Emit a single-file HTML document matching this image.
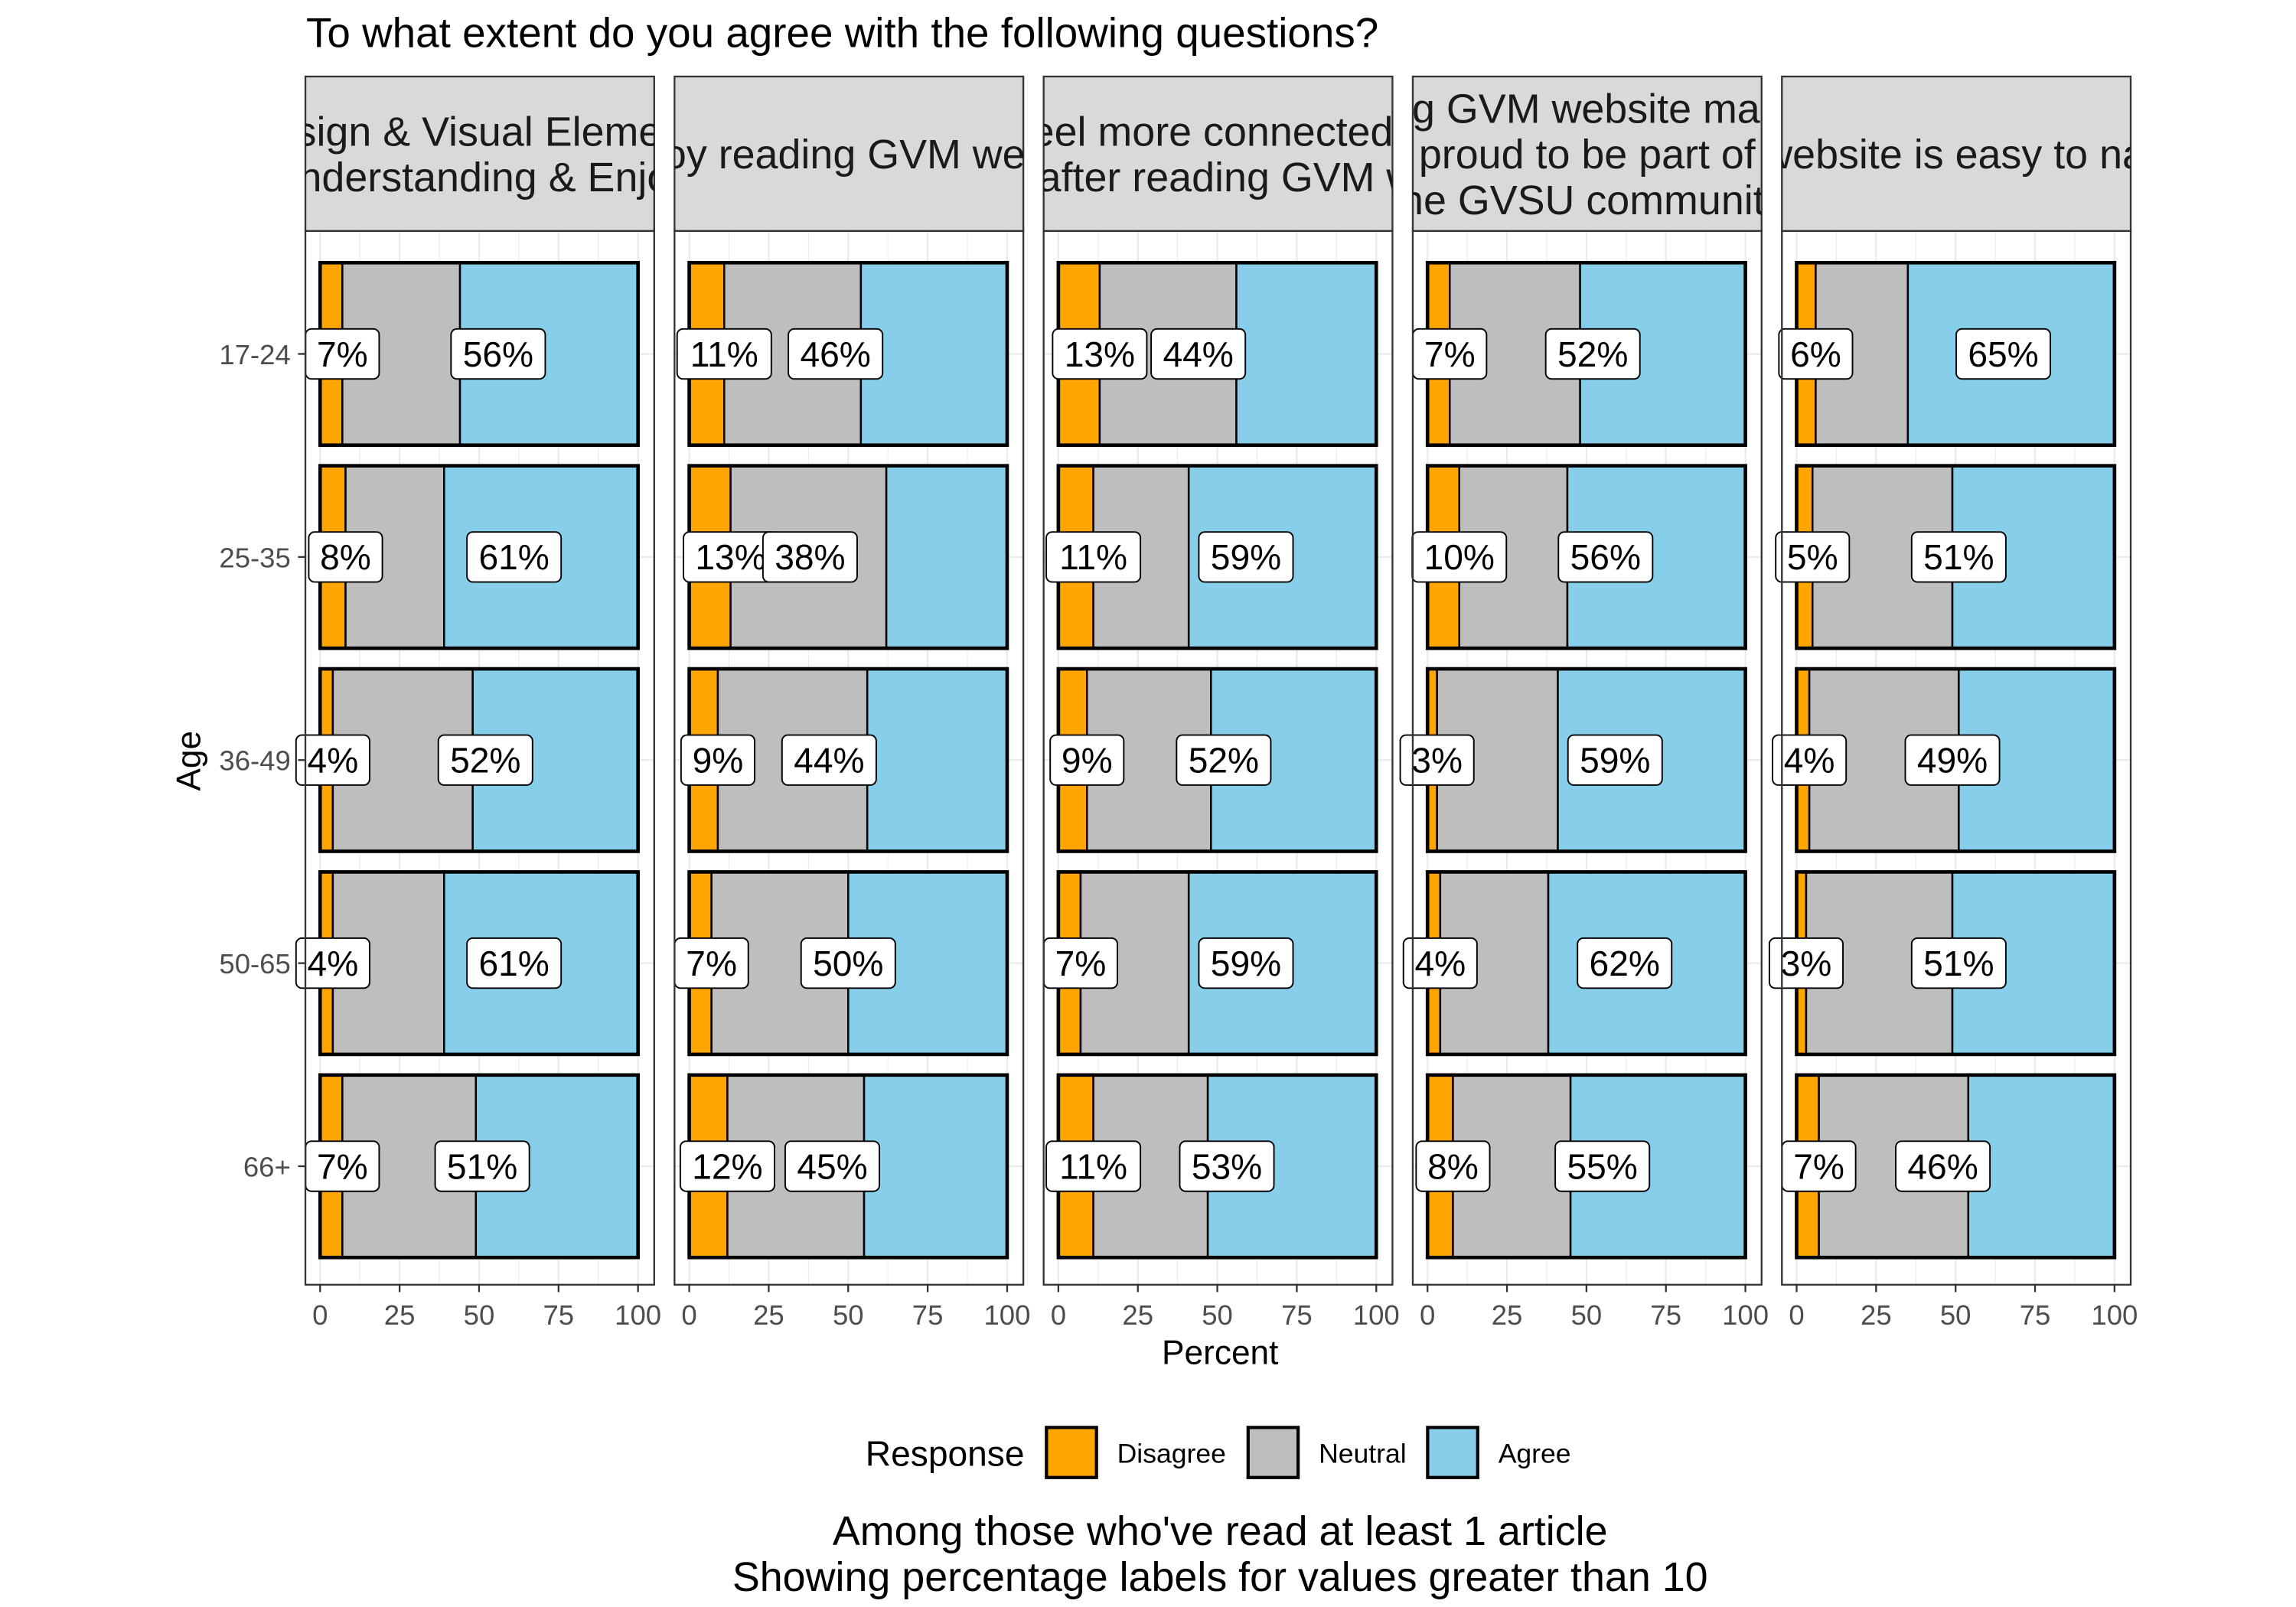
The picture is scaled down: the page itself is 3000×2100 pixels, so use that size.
<!DOCTYPE html>
<html><head><meta charset="utf-8"><style>
html,body{margin:0;padding:0;background:#fff}
svg{display:block;font-family:"Liberation Sans",Arial,sans-serif}
</style></head><body>
<svg id="chart" width="3000" height="2100" viewBox="0 0 1560 1092" xmlns="http://www.w3.org/2000/svg">
<rect x="0" y="0" width="1560" height="1092" fill="#fff"/>
<text x="208" y="32" font-size="28.5" fill="#000">To what extent do you agree with the following questions?</text>
<g id="panels"></g>
<g id="yaxis"></g>
<text transform="translate(136,517) rotate(-90)" text-anchor="middle" font-size="23" fill="#000">Age</text>
<text x="829" y="927" text-anchor="middle" font-size="23" fill="#000">Percent</text>
<g>
<text x="588" y="996" font-size="24" fill="#000">Response</text>
<g><rect x="711" y="970" width="34" height="34" fill="#FFA500" stroke="#000" stroke-width="2.2"/><text x="759" y="994" font-size="18.5" fill="#000">Disagree</text></g>
<g><rect x="848" y="970" width="34" height="34" fill="#BEBEBE" stroke="#000" stroke-width="2.2"/><text x="896" y="994" font-size="18.5" fill="#000">Neutral</text></g>
<g><rect x="970" y="970" width="34" height="34" fill="#87CEEB" stroke="#000" stroke-width="2.2"/><text x="1018" y="994" font-size="18.5" fill="#000">Agree</text></g>
</g>
<text x="829" y="1050" text-anchor="middle" font-size="28" fill="#000">Among those who've read at least 1 article</text>
<text x="829" y="1081" text-anchor="middle" font-size="28" fill="#000">Showing percentage labels for values greater than 10</text>
</svg>
<script>
const ages = ["17-24","25-35","36-49","50-65","66+"];
const xTicks = [0,25,50,75,100];
const stripLines = [
  ["Design & Visual Elements","Understanding & Enjoy"],
  ["I enjoy reading GVM website"],
  ["I feel more connected to","GVSU after reading GVM website"],
  ["Reading GVM website makes me","me proud to be part of the","the GVSU community"],
  ["GVM website is easy to navigate"]
];
const disagree = [
  [7,8,4,4,7],
  [11,13,9,7,12],
  [13,11,9,7,11],
  [7,10,3,4,8],
  [6,5,4,3,7]
];
const neutral = [
  [37,31,44,35,42],
  [43,49,47,43,43],
  [43,30,39,34,36],
  [41,34,38,34,37],
  [29,44,47,46,47]
];
const agree = [
  [56,61,52,61,51],
  [46,38,44,50,45],
  [44,59,52,59,53],
  [52,56,59,62,55],
  [65,51,49,51,46]
];

const NS = "http://www.w3.org/2000/svg";
const svg = document.getElementById('chart');
const panelsG = document.getElementById('panels');
const P_LEFT0 = 207.5, P_W = 237, P_GAP = 13.8;
const STRIP_T = 52, STRIP_B = 157, PANEL_B = 873;
const rowY0 = 240.5, rowStep = 138, barH = 124;
function mk(tag, attrs, parent){ const e=document.createElementNS(NS,tag); for(const k in attrs) e.setAttribute(k,attrs[k]); parent.appendChild(e); return e; }
function panelLeft(p){ return P_LEFT0 + p*(P_W+P_GAP); }
function xScale(p,v){ return panelLeft(p) + 10 + v*2.16; }
function yScale(r){ return rowY0 + r*rowStep; }
const defs = mk('defs',{},svg);
const colors = {d:"#FFA500", n:"#BEBEBE", a:"#87CEEB"};

for(let p=0;p<5;p++){
  const L = panelLeft(p);
  const g = mk('g',{},panelsG);
  
  
  const cp = mk('clipPath',{id:'clip'+p},defs);
  mk('rect',{x:L,y:STRIP_T,width:P_W,height:STRIP_B-STRIP_T},cp);
  const strip = mk('rect',{x:L,y:STRIP_T,width:P_W,height:STRIP_B-STRIP_T,fill:"#d9d9d9",stroke:"#333",'stroke-width':1.2},g);
  
  
  const lines = stripLines[p];
  const n = lines.length, lh = 31, cy = (STRIP_T+STRIP_B)/2;
  lines.forEach((t,i)=>{
    const tx = mk('text',{x:L+P_W/2,y:cy+(i-(n-1)/2)*lh+10,'text-anchor':'middle','font-size':28,fill:'#1a1a1a','clip-path':'url(#clip'+p+')'},g);
    tx.textContent = t;
    
    
  });
  mk('rect',{x:L,y:STRIP_B,width:P_W,height:PANEL_B-STRIP_B,fill:"#fff"},g);
  for(let v=12.5; v<100; v+=25){
    mk('line',{x1:xScale(p,v),x2:xScale(p,v),y1:STRIP_B,y2:PANEL_B,stroke:"#ebebeb",'stroke-width':0.6},g);
  }
  xTicks.forEach(v=>{
    mk('line',{x1:xScale(p,v),x2:xScale(p,v),y1:STRIP_B,y2:PANEL_B,stroke:"#ebebeb",'stroke-width':1.2},g);
  });
  ages.forEach((a,r)=>{
    mk('line',{x1:L,x2:L+P_W,y1:yScale(r),y2:yScale(r),stroke:"#ebebeb",'stroke-width':1.2},g);
  });
  ages.forEach((a,r)=>{
    const y = yScale(r)-barH/2;
    const d = disagree[p][r], nu = neutral[p][r], ag = agree[p][r];
    const segs = [[0,d,colors.d,'disagree'],[d,d+nu,colors.n,'neutral'],[d+nu,d+nu+ag,colors.a,'agree']];
    segs.forEach(s=>{
      const b = mk('rect',{x:xScale(p,s[0]),y:y,width:xScale(p,s[1])-xScale(p,s[0]),height:barH,fill:s[2],stroke:"#000",'stroke-width':1.3},g);
      
      
    });
    mk('rect',{x:xScale(p,0),y:y,width:xScale(p,100)-xScale(p,0),height:barH,fill:"none",stroke:"#000",'stroke-width':2.4},g);
  });
  ages.forEach((a,r)=>{
    [[disagree[p][r],'disagree'],[agree[p][r],'agree']].forEach(lv=>{
      const v = lv[0], txt = v+'%';
      const w = txt.length===2 ? 50 : 64;
      const cx = xScale(p,v), cyy = yScale(r);
      const lg = mk('g',{},g);
      
      
      mk('rect',{x:cx-w/2,y:cyy-17,width:w,height:34,rx:4,fill:'#fff',stroke:'#000','stroke-width':1},lg);
      const t = mk('text',{x:cx,y:cyy+8.5,'text-anchor':'middle','font-size':24,fill:'#000'},lg);
      t.textContent = txt;
    });
  });
  mk('rect',{x:L,y:STRIP_B,width:P_W,height:PANEL_B-STRIP_B,fill:"none",stroke:"#333",'stroke-width':1.2},g);
  xTicks.forEach(v=>{
    const x = xScale(p,v);
    mk('line',{x1:x,x2:x,y1:PANEL_B,y2:PANEL_B+5,stroke:"#333",'stroke-width':1.2},g);
    const t = mk('text',{x:x,y:PANEL_B+27,'text-anchor':'middle','font-size':19,fill:'#4d4d4d'},g);
    t.textContent = v;
    
    
  });
}
const ya = document.getElementById('yaxis');
ages.forEach((a,r)=>{
  const y = yScale(r);
  mk('line',{x1:P_LEFT0-5,x2:P_LEFT0,y1:y,y2:y,stroke:"#333",'stroke-width':1.2},ya);
  const t = mk('text',{x:P_LEFT0-10,y:y+7,'text-anchor':'end','font-size':19,fill:'#4d4d4d'},ya);
  t.textContent = a;
  
  
});
</script>
</body></html>
